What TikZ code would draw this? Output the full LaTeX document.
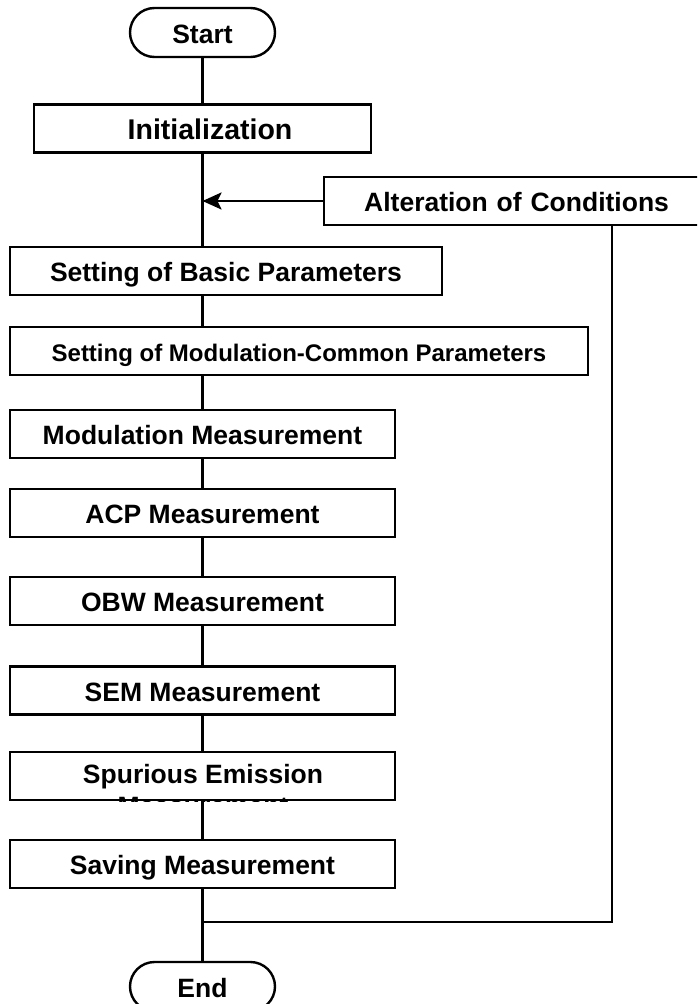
\documentclass[tikz,border=0pt]{standalone}
\usepackage{fontspec}
\setmainfont{Liberation Sans}
\usetikzlibrary{arrows.meta,shapes.misc}

\begin{document}
\begin{tikzpicture}[x=1pt,y=-1pt,
  every node/.style={font=\bfseries\fontsize{26.5}{30}\selectfont},
  stepbox/.style={draw,line width=2.4pt,minimum height=48pt,inner sep=0pt,
    text height=21pt,text depth=0pt},
  terminal/.style={draw,line width=2.4pt,rounded rectangle,minimum width=145pt,
    minimum height=49pt,inner sep=0pt,text height=21pt,text depth=0pt},
  flow/.style={line width=2.4pt},
  tip/.style={-{Stealth[length=19pt,width=17pt,inset=4pt]}}]

\useasboundingbox (0,0) rectangle (697,1004);
\clip (0,0) rectangle (697,1004);

% terminals and process steps
\node[terminal] (start) at (202.5,32.5) {Start};
\node[stepbox,minimum width=337pt] (init) at (202.5,128.5) {};
\node[font=\bfseries\fontsize{28.5}{32}\selectfont,text height=22pt,text depth=0pt]
  (initlabel) at (210,128.5) {Initialization};
\node[stepbox,anchor=west,inner xsep=40pt,text width=360pt,align=left]
  (alt) at (323,201) {Alteration of Conditions};
\node[stepbox,minimum width=432pt] (basic) at (226,271) {Setting of Basic Parameters};
\node[stepbox,minimum width=578pt,font=\bfseries\fontsize{24}{28}\selectfont]
  (modcom) at (299,351) {Setting of Modulation-Common Parameters};
\node[stepbox,minimum width=385pt] (modm) at (202.5,434) {Modulation Measurement};
\node[stepbox,minimum width=385pt] (acp) at (202.5,513) {ACP Measurement};
\node[stepbox,minimum width=385pt] (obw) at (202.5,601) {OBW Measurement};
\node[stepbox,minimum width=385pt] (sem) at (202.5,690.5) {SEM Measurement};
\node[stepbox,minimum width=385pt] (spur) at (202.5,776) {};
\begin{scope}
  \clip (spur.south west) rectangle (spur.north east);
  \node[anchor=base] (spurA) at (203,783) {Spurious Emission};
  \node[anchor=base] (spurB) at (203,815) {Measurement};
\end{scope}
\node[stepbox,minimum width=385pt] (save) at (202.5,864) {Saving Measurement};
\node[terminal] (end) at (202.5,986.5) {End};

% main flow
\draw[flow] (start.south) -- (init.north);
\draw[flow] (init.south) -- (init.south |- basic.north);
\draw[flow] (basic.south -| init.south) -- (modcom.north -| init.south);
\draw[flow] (modcom.south -| init.south) -- (modm.north);
\draw[flow] (modm.south) -- (acp.north);
\draw[flow] (acp.south) -- (obw.north);
\draw[flow] (obw.south) -- (sem.north);
\draw[flow] (sem.south) -- (spur.north);
\draw[flow] (spur.south) -- (save.north);
\draw[flow] (save.south) -- (end.north);

% loop back through the change of conditions
\draw[flow,tip] (alt.west) -- (alt.west -| init.south);
\coordinate (ret) at (612,922);
\draw[flow] (alt.south -| ret) -- (ret) -- (ret -| save.south);
\end{tikzpicture}
\end{document}
